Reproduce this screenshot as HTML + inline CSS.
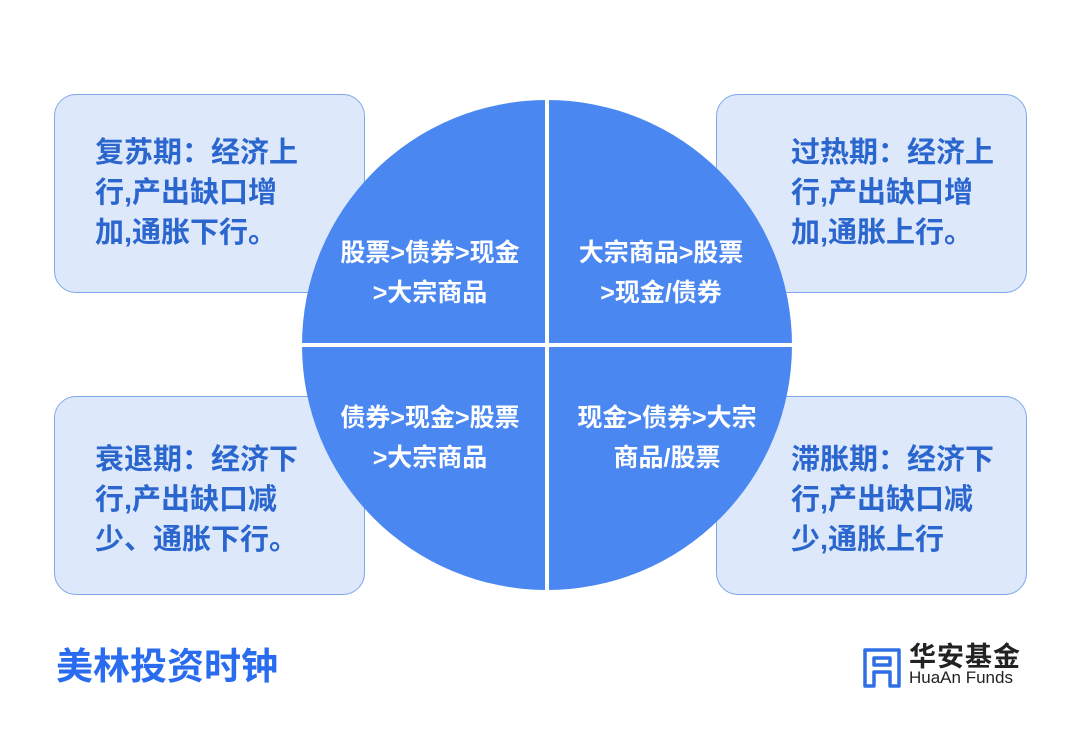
<!DOCTYPE html>
<html><head><meta charset="utf-8"><style>
body{margin:0;width:1080px;height:738px;background:#fff;position:relative;overflow:hidden;font-family:"Liberation Sans","Noto Sans CJK SC",sans-serif;}
.box{position:absolute;width:311px;height:199px;background:#dde9fb;border:1.5px solid #7ea8e8;border-radius:22px;box-sizing:border-box;}
.bt{position:absolute;font-weight:bold;font-size:29px;line-height:40px;color:#2b66cf;white-space:nowrap;}
.ct{position:absolute;font-weight:bold;font-size:25px;line-height:40px;color:#fff;text-align:center;white-space:nowrap}
</style></head><body>
<div class="box" style="left:54px;top:94px"></div>
<div class="box" style="left:716px;top:94px"></div>
<div class="box" style="left:54px;top:396px"></div>
<div class="box" style="left:716px;top:396px"></div>
<div class="bt" style="left:95px;top:133px">复苏期：经济上<br>行,产出缺口增<br>加,通胀下行。</div>
<div class="bt" style="left:791px;top:133px">过热期：经济上<br>行,产出缺口增<br>加,通胀上行。</div>
<div class="bt" style="left:95px;top:440px">衰退期：经济下<br>行,产出缺口减<br>少、通胀下行。</div>
<div class="bt" style="left:791px;top:440px">滞胀期：经济下<br>行,产出缺口减<br>少,通胀上行</div>
<svg style="position:absolute;left:0;top:0" width="1080" height="738">
<circle cx="547" cy="345" r="245" fill="#4a87f1"/>
<rect x="545" y="95" width="4" height="500" fill="#fff"/>
<rect x="297" y="343" width="500" height="4" fill="#fff"/>
</svg>
<div class="ct" style="left:330px;width:200px;top:233px">股票&gt;债券&gt;现金<br>&gt;大宗商品</div>
<div class="ct" style="left:561px;width:200px;top:233px">大宗商品&gt;股票<br>&gt;现金/债券</div>
<div class="ct" style="left:330px;width:200px;top:398px">债券&gt;现金&gt;股票<br>&gt;大宗商品</div>
<div class="ct" style="left:567px;width:200px;top:398px">现金&gt;债券&gt;大宗<br>商品/股票</div>
<div style="position:absolute;left:56px;top:645px;font-size:37px;line-height:44px;font-weight:bold;color:#2a6cf0;">美林投资时钟</div>
<svg style="position:absolute;left:862px;top:646px" width="42" height="42">
<path d="M3 40 V4 H37 V40 H28 V26 H12 V40 Z M12 12 H28 V19 H12 Z" fill="none" stroke="#2f6fe6" stroke-width="3.5" stroke-linejoin="round"/>
</svg>
<div style="position:absolute;left:909px;top:641px;font-size:27px;line-height:32px;font-weight:bold;color:#222;letter-spacing:1px">华安基金</div>
<div style="position:absolute;left:909px;top:668px;font-size:17px;line-height:20px;color:#222">HuaAn Funds</div>
</body></html>
